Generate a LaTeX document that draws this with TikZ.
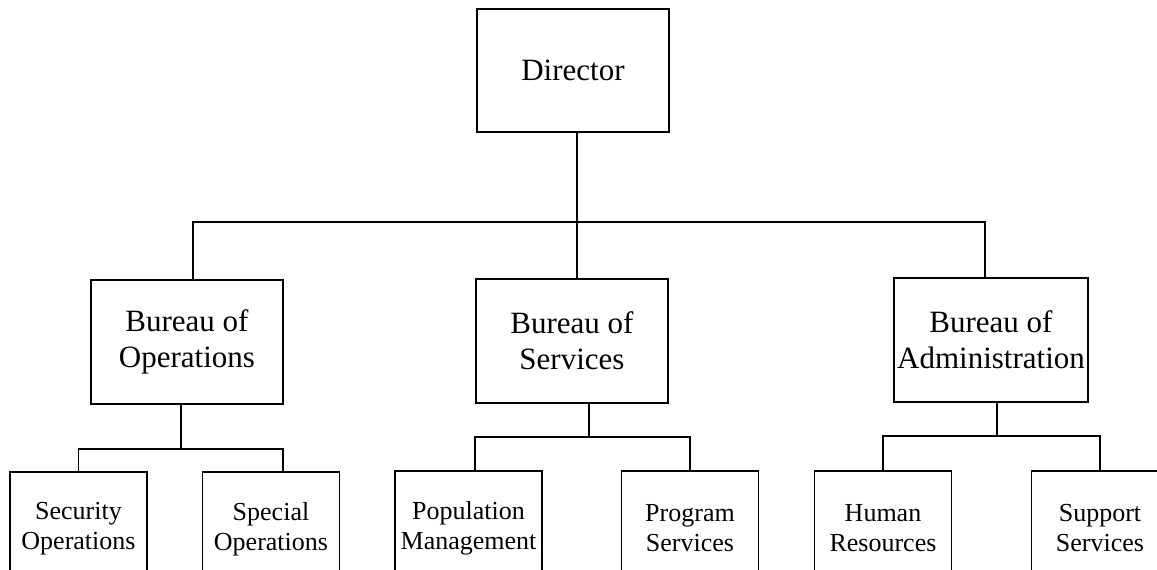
\documentclass[tikz,border=0pt]{standalone}
\usepackage{fontspec}
\setmainfont{Liberation Serif}

\begin{document}
\begin{tikzpicture}[x=0.5pt, y=-0.5pt, line width=0.9pt,
  top/.style={draw, rectangle, align=center, inner sep=0pt, minimum width=96pt, minimum height=62pt, font=\fontsize{15.5}{18}\selectfont},
  leaf/.style={draw, rectangle, align=center, inner sep=0pt, minimum width=68.5pt, minimum height=57pt, font=\fontsize{13}{15}\selectfont}]
\useasboundingbox (0,0) rectangle (1157,569);
\clip (0,0) rectangle (1157,569);

\node[top, minimum height=61.5pt] (dir) at (573,70.5) {Director};

\node[top] (ops) at (187,342) {Bureau of\\Operations};
\node[top] (srv) at (572,341) {Bureau of\\Services};
\node[top, minimum width=97pt] (adm) at (991,340) {Bureau of\\Administration};

\node[leaf] (sec) at (78.5,529) {Security\\Operations};
\node[leaf] (spc) at (271,529) {Special\\Operations};
\node[leaf, minimum width=73.5pt] (pop) at (468.5,528) {Population\\Management};
\node[leaf] (prg) at (690,528) {Program\\Services};
\node[leaf] (hum) at (883,528) {Human\\Resources};
\node[leaf] (sup) at (1100,528) {Support\\Services};

\coordinate (topbar) at (577,222);
\coordinate (opsbar) at (181,449);
\coordinate (srvbar) at (589,437);
\coordinate (admbar) at (997,436);

\path[draw] (dir.south -| topbar) -- (topbar);
\path[draw] ([xshift=3pt]ops.north) |- (topbar) -| ([xshift=-3pt]adm.north);
\path[draw] (topbar) -- (topbar |- srv.north);

\path[draw] (ops.south -| opsbar) -- (opsbar);
\path[draw] (sec.north) |- (opsbar) -| ([xshift=6pt]spc.north);

\path[draw] (srv.south -| srvbar) -- (srvbar);
\path[draw] ([xshift=3.25pt]pop.north) |- (srvbar) -| (prg.north);

\path[draw] (adm.south -| admbar) -- (admbar);
\path[draw] (hum.north) |- (admbar) -| (sup.north);
\end{tikzpicture}
\end{document}
